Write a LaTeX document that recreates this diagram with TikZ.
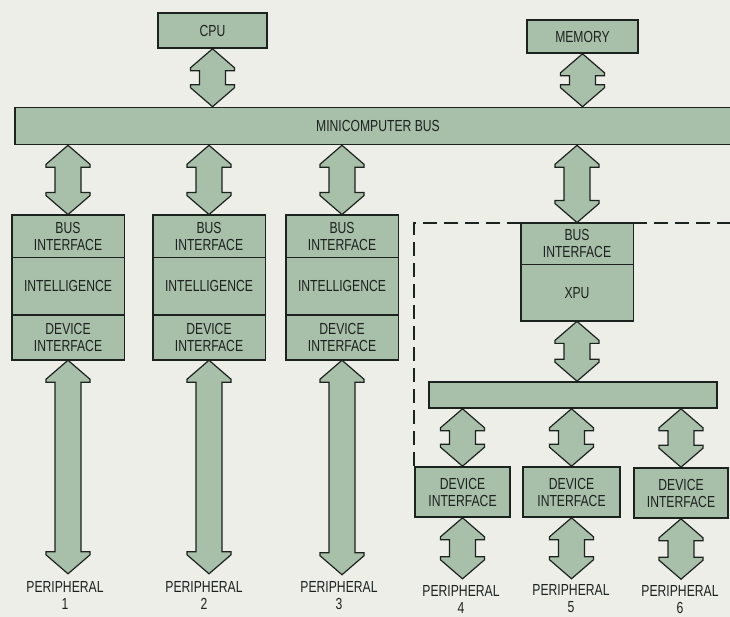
\documentclass[tikz,border=0pt]{standalone}
\usepackage{fontspec}
\setmainfont{Liberation Sans}[FakeStretch=0.76]
\usepackage{tikz}
\usetikzlibrary{positioning,calc}
\usepackage{xcolor}
\definecolor{xpPaper}{HTML}{EEEEE9}
\definecolor{xpFill}{HTML}{A8BFA9}
\definecolor{xpInk}{HTML}{1C221E}
\tikzset{
  lbl/.style      = {font=\fontsize{16}{17}\selectfont, text=xpInk, align=center},
  blockbox/.style = {lbl, draw=xpInk, fill=xpFill, line width=1.6pt, inner sep=0pt},
  partbox/.style  = {lbl, draw=xpInk, fill=xpFill, line width=0.9pt, inner sep=0pt,
                     minimum width=112pt},
  frame/.style    = {draw=xpInk, line width=1.6pt},
  fatarrow/.style = {draw=xpInk, fill=xpFill, line width=1.2pt, line join=miter},
  boundary/.style = {draw=xpInk, line width=1.8pt, dash pattern=on 14pt off 7pt},
  perlbl/.style   = {lbl, inner sep=1pt},
}
% fat double arrow, from #1 straight down to the level of #2
\newcommand{\fatlink}[2]{%
  \coordinate (fa) at (#1);
  \coordinate (fb) at (fa |- #2);
  \draw[fatarrow] (fa) -- ++(22,19) -- ++(0,3) -- ++(-9,0)
    -- ($(fb)+(13,-22)$) -- ++(9,0) -- ++(0,3) -- (fb)
    -- ++(-22,-19) -- ++(0,-3) -- ++(9,0)
    -- ($(fa)+(-13,22)$) -- ++(-9,0) -- ++(0,-3) -- cycle;}

\begin{document}
\begin{tikzpicture}[x=1pt, y=-1pt]
  \clip (0,0) rectangle (730,617);
  \fill[xpPaper] (0,0) rectangle (730,617);

  \node[blockbox, minimum width=109pt, minimum height=35pt] (cpu) at (212.5,30.5) {CPU};
  \node[blockbox, minimum width=111pt, minimum height=33pt] (memory) at (582.5,36.5) {MEMORY};
  \node[blockbox, minimum width=726pt, minimum height=37pt] (bus) at (378,126)
    {MINICOMPUTER BUS};

  % three intelligent controllers
  \node[partbox, minimum height=42pt] (bi1) at (68,236) {BUS\\INTERFACE};
  \node[partbox, minimum height=57pt, below=0pt of bi1] (in1) {INTELLIGENCE};
  \node[partbox, minimum height=44pt, below=0pt of in1] (di1) {DEVICE\\INTERFACE};
  \draw[frame] (bi1.north west) rectangle (di1.south east);

  \node[partbox, minimum height=42pt] (bi2) at (209,236) {BUS\\INTERFACE};
  \node[partbox, minimum height=57pt, below=0pt of bi2] (in2) {INTELLIGENCE};
  \node[partbox, minimum height=44pt, below=0pt of in2] (di2) {DEVICE\\INTERFACE};
  \draw[frame] (bi2.north west) rectangle (di2.south east);

  \node[partbox, minimum height=42pt] (bi3) at (342,236) {BUS\\INTERFACE};
  \node[partbox, minimum height=57pt, below=0pt of bi3] (in3) {INTELLIGENCE};
  \node[partbox, minimum height=44pt, below=0pt of in3] (di3) {DEVICE\\INTERFACE};
  \draw[frame] (bi3.north west) rectangle (di3.south east);

  % XPU subsystem
  \node[partbox, minimum height=41pt] (bix) at (577,243.5) {BUS\\INTERFACE};
  \node[partbox, minimum height=56pt, below=0pt of bix] (xpu) {XPU};
  \draw[frame] (bix.north west) rectangle (xpu.south east);
  \node[blockbox, minimum width=288pt, minimum height=26pt] (lbus) at (573,395) {};
  \node[blockbox, minimum width=95pt, minimum height=50pt] (dev4) at (462.5,492) {DEVICE\\INTERFACE};
  \node[blockbox, minimum width=97pt, minimum height=50pt] (dev5) at (571.5,492) {DEVICE\\INTERFACE};
  \node[blockbox, minimum width=94pt, minimum height=50pt] (dev6) at (681,493) {DEVICE\\INTERFACE};
  \draw[boundary] (731,223) -| (dev4.north west);

  \node[perlbl] (per1) at (65,595) {PERIPHERAL\\1};
  \node[perlbl] (per2) at (204,595) {PERIPHERAL\\2};
  \node[perlbl] (per3) at (339,596) {PERIPHERAL\\3};
  \node[perlbl] (per4) at (461,599) {PERIPHERAL\\4};
  \node[perlbl] (per5) at (571,599) {PERIPHERAL\\5};
  \node[perlbl] (per6) at (680,599.5) {PERIPHERAL\\6};
  \coordinate (p1) at ([yshift=6pt]di1.south |- per1.north);
  \coordinate (p2) at ([yshift=6pt]di2.south |- per2.north);
  \coordinate (p3) at ([yshift=6pt]di3.south |- per3.north);
  \coordinate (p4) at ([yshift=5pt]dev4.south |- per4.north);
  \coordinate (p5) at ([yshift=5pt]dev5.south |- per5.north);
  \coordinate (p6) at ([yshift=5pt]dev6.south |- per6.north);

  \fatlink{cpu.south}{bus.north}
  \fatlink{memory.south}{bus.north}
  \fatlink{bi1.north |- bus.south}{bi1.north}
  \fatlink{bi2.north |- bus.south}{bi2.north}
  \fatlink{bi3.north |- bus.south}{bi3.north}
  \fatlink{bix.north |- bus.south}{bix.north}
  \fatlink{xpu.south}{lbus.north}
  \fatlink{dev4.north |- lbus.south}{dev4.north}
  \fatlink{dev5.north |- lbus.south}{dev5.north}
  \fatlink{dev6.north |- lbus.south}{dev6.north}
  \fatlink{di1.south}{p1}
  \fatlink{di2.south}{p2}
  \fatlink{di3.south}{p3}
  \fatlink{dev4.south}{p4}
  \fatlink{dev5.south}{p5}
  \fatlink{dev6.south}{p6}
\end{tikzpicture}
\end{document}
